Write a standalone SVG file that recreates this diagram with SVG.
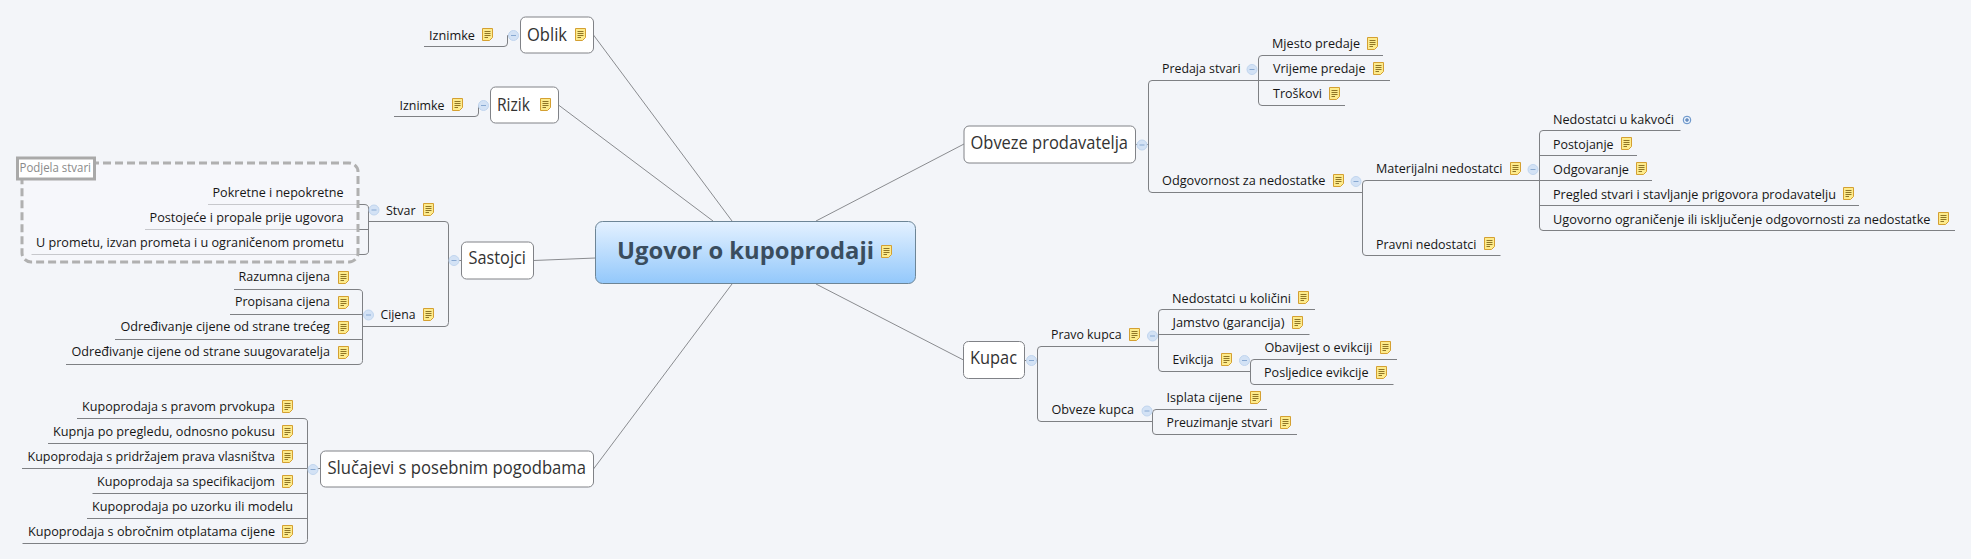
<svg xmlns="http://www.w3.org/2000/svg" width="1971" height="559" viewBox="0 0 1971 559">
<style>
text{font-family:"Open Sans","Noto Sans","Liberation Sans",sans-serif;fill:#161616;font-size:13px}
.c{fill:none;stroke:#7e8084;stroke-width:1}
.s{fill:none;stroke:#8a8c90;stroke-width:1}
.b{fill:#fff;stroke:#808287;stroke-width:1}
.t{font-size:18.5px;fill:#333}
</style>
<defs>
<linearGradient id="g" x1="0" y1="0" x2="0" y2="1"><stop offset="0" stop-color="#e4f1ff"/><stop offset="1" stop-color="#93c8fb"/></linearGradient>
<symbol id="n" width="11" height="13" viewBox="0 0 11 13" overflow="visible"><path d="M.5.5H10.5V9.5L7.5 12.5H.5Z" fill="#fdeb8c" stroke="#d4a032"/><path d="M2.5 3.5H8.5M2.5 5.5H8.5M2.5 7.5H8.5M2.5 9.5H6" stroke="#8f7526" fill="none"/></symbol>
<symbol id="m" width="12" height="12" viewBox="-6 -6 12 12"><circle r="5" fill="#d3e2f5" stroke="#c0d5ee"/><path d="M-2.5 0H2.5" stroke="#88a9d2"/></symbol>
<symbol id="p" width="12" height="12" viewBox="-6 -6 12 12"><circle r="3.8" fill="#e6effa" stroke="#5e8dc6"/><path d="M-2 0H2M0-2V2" stroke="#3f6fae"/></symbol>
</defs>
<rect width="1971" height="559" fill="#f3f5f9"/>
<g id="connectors">
<path class="s" d="M593.5 35L732 221M558.5 105L713 221M533.5 260.5L595.5 258M593.5 469L732 284M816 221L964 144M816 284L963.5 360"/>
<path class="c" d="M424 46.5H504Q507.5 46.5 507.5 43V35.5H509M394 116.5H475Q478.5 116.5 478.5 113V105.5H479"/>
<path class="c" d="M208 204.5H364Q368.5 204.5 368.5 208V251Q368.5 254.5 364 254.5H31.5M145 229.5H368.5"/>
<path class="c" d="M368.5 221.5H445Q448.5 221.5 448.5 225V322.5Q448.5 326.5 445 326.5H362.5M448.5 260.5H461.5"/>
<path class="c" d="M234 289.5H358Q362.5 289.5 362.5 293V360.5Q362.5 364.5 358 364.5H66M230 314.5H362.5M115 339.5H362.5"/>
<path class="c" d="M77 418.5H303Q307.5 418.5 307.5 422V539.5Q307.5 543.5 303 543.5H22.5M48 443.5H307.5M22 468.5H320.5M92.5 493.5H307.5M87 518.5H307.5"/>
<path class="c" d="M1345 105.5H1262Q1258.5 105.5 1258.5 102V59Q1258.5 55.5 1262 55.5H1383M1390 80.5H1152Q1148.5 80.5 1148.5 84V189Q1148.5 192.5 1152 192.5H1362M1135.5 144.5H1148.5"/>
<path class="c" d="M1500.5 255.5H1366Q1362.5 255.5 1362.5 252V184Q1362.5 180.5 1366 180.5H1652M1680.5 130.5H1543Q1539.5 130.5 1539.5 134V227Q1539.5 230.5 1543 230.5H1955M1637 155.5H1539.5M1859 205.5H1539.5"/>
<path class="c" d="M1024.5 360.5H1037.5M1152.5 421.5H1041Q1037.5 421.5 1037.5 418V350Q1037.5 346.5 1041 346.5H1158.5M1315 309.5H1162Q1158.5 309.5 1158.5 313V368Q1158.5 371.5 1162 371.5H1250.5M1309.5 334.5H1158.5M1397 359.5H1254Q1250.5 359.5 1250.5 363V381Q1250.5 384.5 1254 384.5H1393.5M1267 409.5H1156Q1152.5 409.5 1152.5 413V431Q1152.5 434.5 1156 434.5H1297"/>
</g>
<g id="central"><rect x="595.5" y="221.5" width="320" height="62" rx="7" fill="url(#g)" stroke="#6d8596"/><text x="617" y="259" textLength="257" lengthAdjust="spacingAndGlyphs" style="font-size:24px;font-weight:700;fill:#3a4d5e">Ugovor o kupoprodaji</text><use href="#n" x="881" y="245"/></g>
<g id="oblik"><rect class="b" x="520.5" y="17" width="73" height="36" rx="5"/><text class="t" x="527" y="41" textLength="40" lengthAdjust="spacingAndGlyphs">Oblik</text><use href="#n" x="575" y="28"/><use href="#m" x="507.5" y="29.5"/></g>
<g id="oblik-iznimke"><text x="429" y="40" textLength="46" lengthAdjust="spacingAndGlyphs">Iznimke</text><use href="#n" x="482" y="28"/></g>
<g id="rizik"><rect class="b" x="490.5" y="87" width="68" height="36" rx="5"/><text class="t" x="497" y="111" textLength="33" lengthAdjust="spacingAndGlyphs">Rizik</text><use href="#n" x="540" y="98"/><use href="#m" x="477.5" y="99.5"/></g>
<g id="rizik-iznimke"><text x="399.5" y="110" textLength="45" lengthAdjust="spacingAndGlyphs">Iznimke</text><use href="#n" x="452" y="98"/></g>
<g id="boundary"><rect x="22" y="163" width="336" height="99" rx="9" fill="#f8f9fc" fill-opacity=".6" stroke="#b0b0b0" stroke-width="3" stroke-dasharray="8 4"/><rect x="17.5" y="158" width="77" height="21" fill="#fff" stroke="#a9a9a9" stroke-width="3"/><text x="19.5" y="172" textLength="71.5" lengthAdjust="spacingAndGlyphs" style="fill:#8a8a8a">Podjela stvari</text></g>
<g id="pokretne"><text x="212.5" y="196.5" textLength="131" lengthAdjust="spacingAndGlyphs">Pokretne i nepokretne</text></g>
<g id="postojece"><text x="149.5" y="221.5" textLength="194" lengthAdjust="spacingAndGlyphs">Postojeće i propale prije ugovora</text></g>
<g id="prometu"><text x="36" y="246.5" textLength="308" lengthAdjust="spacingAndGlyphs">U prometu, izvan prometa i u ograničenom prometu</text></g>
<g id="stvar"><text x="386" y="215" textLength="29.5" lengthAdjust="spacingAndGlyphs">Stvar</text><use href="#n" x="423" y="203"/><use href="#m" x="368" y="204"/></g>
<g id="sastojci"><rect class="b" x="461.5" y="242" width="72" height="37" rx="5"/><text class="t" x="468.5" y="264" textLength="57.5" lengthAdjust="spacingAndGlyphs">Sastojci</text><use href="#m" x="448" y="254.5"/></g>
<g id="razumna"><text x="238.5" y="281" textLength="91.5" lengthAdjust="spacingAndGlyphs">Razumna cijena</text><use href="#n" x="338" y="271"/></g>
<g id="propisana"><text x="235" y="306" textLength="95" lengthAdjust="spacingAndGlyphs">Propisana cijena</text><use href="#n" x="338" y="296"/></g>
<g id="odredivanje-treci"><text x="120.5" y="331" textLength="209.5" lengthAdjust="spacingAndGlyphs">Određivanje cijene od strane trećeg</text><use href="#n" x="338" y="321"/></g>
<g id="odredivanje-suugovaratelja"><text x="71.5" y="356" textLength="258.5" lengthAdjust="spacingAndGlyphs">Određivanje cijene od strane suugovaratelja</text><use href="#n" x="338" y="346"/></g>
<g id="cijena"><text x="380.5" y="318.5" textLength="35" lengthAdjust="spacingAndGlyphs">Cijena</text><use href="#n" x="423" y="308"/><use href="#m" x="362.5" y="309"/></g>
<g id="slucajevi"><rect class="b" x="320.5" y="451" width="273" height="36" rx="5"/><text class="t" x="327.5" y="474" textLength="258.5" lengthAdjust="spacingAndGlyphs">Slučajevi s posebnim pogodbama</text><use href="#m" x="307" y="463.5"/></g>
<g id="s1"><text x="82" y="410.5" textLength="193" lengthAdjust="spacingAndGlyphs">Kupoprodaja s pravom prvokupa</text><use href="#n" x="282" y="400"/></g>
<g id="s2"><text x="53" y="435.5" textLength="222" lengthAdjust="spacingAndGlyphs">Kupnja po pregledu, odnosno pokusu</text><use href="#n" x="282" y="425"/></g>
<g id="s3"><text x="27.5" y="460.5" textLength="247.5" lengthAdjust="spacingAndGlyphs">Kupoprodaja s pridržajem prava vlasništva</text><use href="#n" x="282" y="450"/></g>
<g id="s4"><text x="97" y="485.5" textLength="178" lengthAdjust="spacingAndGlyphs">Kupoprodaja sa specifikacijom</text><use href="#n" x="282" y="475"/></g>
<g id="s5"><text x="92" y="510.5" textLength="201" lengthAdjust="spacingAndGlyphs">Kupoprodaja po uzorku ili modelu</text></g>
<g id="s6"><text x="28" y="535.5" textLength="247" lengthAdjust="spacingAndGlyphs">Kupoprodaja s obročnim otplatama cijene</text><use href="#n" x="282" y="525"/></g>
<g id="obveze-prodavatelja"><rect class="b" x="964" y="126" width="171.5" height="37" rx="5"/><text class="t" x="970.5" y="149" textLength="157.5" lengthAdjust="spacingAndGlyphs">Obveze prodavatelja</text><use href="#m" x="1136" y="139"/></g>
<g id="predaja"><text x="1162" y="72.5" textLength="78.5" lengthAdjust="spacingAndGlyphs">Predaja stvari</text><use href="#m" x="1246" y="63.5"/></g>
<g id="mjesto"><text x="1272" y="47.5" textLength="88" lengthAdjust="spacingAndGlyphs">Mjesto predaje</text><use href="#n" x="1367" y="37"/></g>
<g id="vrijeme"><text x="1273" y="72.5" textLength="92.5" lengthAdjust="spacingAndGlyphs">Vrijeme predaje</text><use href="#n" x="1373" y="62"/></g>
<g id="troskovi"><text x="1273" y="97.5" textLength="49" lengthAdjust="spacingAndGlyphs">Troškovi</text><use href="#n" x="1329" y="87"/></g>
<g id="odgovornost"><text x="1162" y="185" textLength="163.5" lengthAdjust="spacingAndGlyphs">Odgovornost za nedostatke</text><use href="#n" x="1333" y="174"/><use href="#m" x="1350" y="175.5"/></g>
<g id="materijalni"><text x="1376" y="172.5" textLength="126.5" lengthAdjust="spacingAndGlyphs">Materijalni nedostatci</text><use href="#n" x="1510" y="162"/><use href="#m" x="1527" y="163.5"/></g>
<g id="pravni"><text x="1376" y="249" textLength="100.5" lengthAdjust="spacingAndGlyphs">Pravni nedostatci</text><use href="#n" x="1484" y="237"/></g>
<g id="kakvoci"><text x="1553" y="124" textLength="121" lengthAdjust="spacingAndGlyphs">Nedostatci u kakvoći</text><use href="#p" x="1681" y="114"/></g>
<g id="postojanje"><text x="1553" y="149" textLength="60.5" lengthAdjust="spacingAndGlyphs">Postojanje</text><use href="#n" x="1621" y="137"/></g>
<g id="odgovaranje"><text x="1553" y="174" textLength="76" lengthAdjust="spacingAndGlyphs">Odgovaranje</text><use href="#n" x="1636" y="162"/></g>
<g id="pregled"><text x="1553" y="199" textLength="283" lengthAdjust="spacingAndGlyphs">Pregled stvari i stavljanje prigovora prodavatelju</text><use href="#n" x="1843" y="187"/></g>
<g id="ugovorno"><text x="1553" y="224" textLength="377.5" lengthAdjust="spacingAndGlyphs">Ugovorno ograničenje ili isključenje odgovornosti za nedostatke</text><use href="#n" x="1938" y="212"/></g>
<g id="kupac"><rect class="b" x="963.5" y="341.5" width="61" height="37" rx="5"/><text class="t" x="970" y="364" textLength="47" lengthAdjust="spacingAndGlyphs">Kupac</text><use href="#m" x="1025.5" y="354.5"/></g>
<g id="pravo"><text x="1051" y="338.5" textLength="70.5" lengthAdjust="spacingAndGlyphs">Pravo kupca</text><use href="#n" x="1129" y="328"/><use href="#m" x="1146.5" y="330"/></g>
<g id="kolicini"><text x="1172" y="302.5" textLength="119" lengthAdjust="spacingAndGlyphs">Nedostatci u količini</text><use href="#n" x="1298" y="291"/></g>
<g id="jamstvo"><text x="1172.5" y="326.5" textLength="112" lengthAdjust="spacingAndGlyphs">Jamstvo (garancija)</text><use href="#n" x="1292" y="316"/></g>
<g id="evikcija"><text x="1172.5" y="363.5" textLength="41" lengthAdjust="spacingAndGlyphs">Evikcija</text><use href="#n" x="1221" y="353"/><use href="#m" x="1238.5" y="354.5"/></g>
<g id="obavijest"><text x="1264.5" y="351.5" textLength="108" lengthAdjust="spacingAndGlyphs">Obavijest o evikciji</text><use href="#n" x="1380" y="341"/></g>
<g id="posljedice"><text x="1264" y="376.5" textLength="104.5" lengthAdjust="spacingAndGlyphs">Posljedice evikcije</text><use href="#n" x="1376" y="366"/></g>
<g id="obveze-kupca"><text x="1051.5" y="413.5" textLength="82.5" lengthAdjust="spacingAndGlyphs">Obveze kupca</text><use href="#m" x="1141" y="405"/></g>
<g id="isplata"><text x="1166.5" y="401.5" textLength="76" lengthAdjust="spacingAndGlyphs">Isplata cijene</text><use href="#n" x="1250" y="391"/></g>
<g id="preuzimanje"><text x="1166.5" y="426.5" textLength="106" lengthAdjust="spacingAndGlyphs">Preuzimanje stvari</text><use href="#n" x="1280" y="416"/></g>
</svg>
